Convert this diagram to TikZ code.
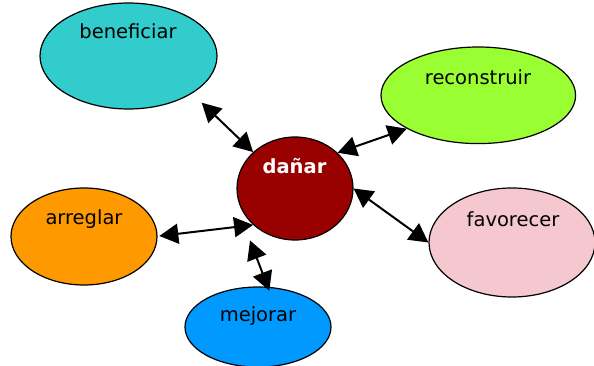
\documentclass[tikz,border=0pt]{standalone}
\usepackage{fontspec}
\setmainfont{DejaVu Sans}
\usetikzlibrary{shapes.geometric,arrows.meta}
\definecolor{cben}{HTML}{33CCCC}
\definecolor{crec}{HTML}{99FF33}
\definecolor{cdan}{HTML}{990000}
\definecolor{carr}{HTML}{FF9900}
\definecolor{cfav}{HTML}{F5C7CF}
\definecolor{cmej}{HTML}{0099FF}
\tikzset{
  oval/.style={ellipse, draw=black, line width=1.2pt, inner sep=0pt},
  lbl/.style={anchor=base, inner sep=0pt, font=\fontsize{19.5pt}{23pt}\selectfont},
  dbl/.style={line width=2pt, {Triangle[length=19pt,width=20pt]}-{Triangle[length=19pt,width=20pt]}}
}
\begin{document}
\begin{tikzpicture}[x=1pt,y=-1pt]
\useasboundingbox (0,0) rectangle (594,366);
\node[oval, fill=cben, minimum width=177pt, minimum height=106pt] (ben) at (128.5,56) {};
\node[oval, fill=crec, minimum width=194.6pt, minimum height=96.6pt] (rec) at (478.3,95.3) {};
\node[oval, fill=cdan, minimum width=116pt, minimum height=103pt] (dan) at (295,188.5) {};
\node[oval, fill=carr, minimum width=146pt, minimum height=97pt] (arr) at (84,236.5) {};
\node[oval, fill=cfav, minimum width=166pt, minimum height=109pt] (fav) at (512,242.5) {};
\node[oval, fill=cmej, minimum width=146pt, minimum height=80pt] (mej) at (258,327) {};

\node[lbl] (benT) at (128,38.3) {beneficiar};
\node[lbl] (recT) at (478,85) {reconstruir};
\node[lbl, text=white, font=\fontsize{19.5pt}{23pt}\selectfont\bfseries] (danT) at (294.5,174) {dañar};
\node[lbl] (arrT) at (84,225) {arreglar};
\node[lbl] (favT) at (513,226.7) {favorecer};
\node[lbl] (mejT) at (258,321.7) {mejorar};

\coordinate (benTip) at (201.7,102.7);
\coordinate (arrTip) at (159.3,236);
\coordinate (mejTopTip) at (250,240.5);
\coordinate (mejTip) at (269.3,290.7);

\draw[dbl] (dan.139) -- (benTip);
\draw[dbl] (dan.40) -- (rec.205);
\draw[dbl] (dan.0) -- (fav.180);
\draw[dbl] (dan.221) -- (arrTip);
\draw[dbl] (mejTopTip) -- (mejTip);
\end{tikzpicture}
\end{document}
